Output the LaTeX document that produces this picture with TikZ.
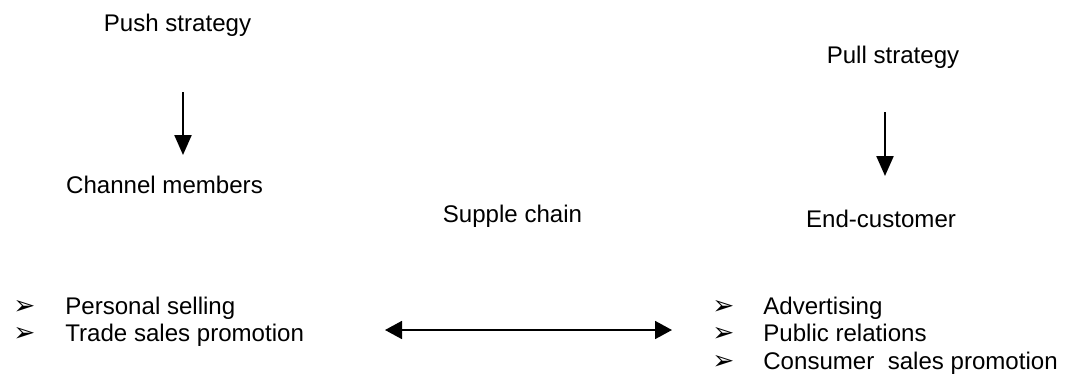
\documentclass[tikz,border=0pt]{standalone}
\usepackage{fontspec}
\setmainfont{Liberation Sans}
\newfontfamily\dingfont{DejaVu Sans}
\usetikzlibrary{arrows.meta}
\usepackage{array}

% list marker
\newcommand{\listmark}{{\dingfont\bfseries\fontsize{15}{15}\selectfont ➢}}

\tikzset{
  label text/.style={inner sep=0pt, anchor=base, font=\fontsize{13.7}{15.9}\selectfont},
  list text/.style={inner sep=0pt, anchor=base west, font=\fontsize{13.7}{15.9}\selectfont},
  pointer/.style={line width=1.3pt, -{Triangle[length=0.4cm,width=0.34cm]}},
  both ways/.style={line width=1pt, {Triangle[length=0.34cm,width=0.36cm]}-{Triangle[length=0.34cm,width=0.36cm]}}
}

\begin{document}
\begin{tikzpicture}
  \useasboundingbox (0,0) rectangle (21.36,-7.58);

  % Push side
  \node[label text] (push) at (3.55,-0.62) {Push strategy};
  \node[label text] (channel) at (3.29,-3.86) {Channel members};
  \coordinate (pushTop) at (3.66,-1.84);
  \coordinate (pushTip) at (3.66,-3.10);
  \draw[pointer] (pushTop) -- (pushTip);

  % Pull side
  \node[label text] (pull) at (17.86,-1.26) {Pull strategy};
  \node[label text] (endcust) at (17.62,-4.54) {End-customer};
  \coordinate (pullTop) at (17.70,-2.24);
  \coordinate (pullTip) at (17.70,-3.52);
  \draw[pointer] (pullTop) -- (pullTip);

  % Middle
  \node[label text] (chain) at (10.25,-4.44) {Supple chain};
  \coordinate (chainL) at (7.70,-6.60);
  \coordinate (chainR) at (13.44,-6.60);
  \draw[both ways] (chainL) -- (chainR);

  % Tools for each side
  \node[list text] (pushTools) at (0.26,-6.28)
    {\begin{tabular}[t]{@{}p{1.04cm}@{}l@{}}
      \listmark & Personal selling\\
      \listmark & Trade sales promotion
    \end{tabular}};
  \node[list text] (pullTools) at (14.24,-6.28)
    {\begin{tabular}[t]{@{}p{1.02cm}@{}l@{}}
      \listmark & Advertising\\
      \listmark & Public relations\\
      \listmark & Consumer~ sales promotion
    \end{tabular}};
\end{tikzpicture}
\end{document}
